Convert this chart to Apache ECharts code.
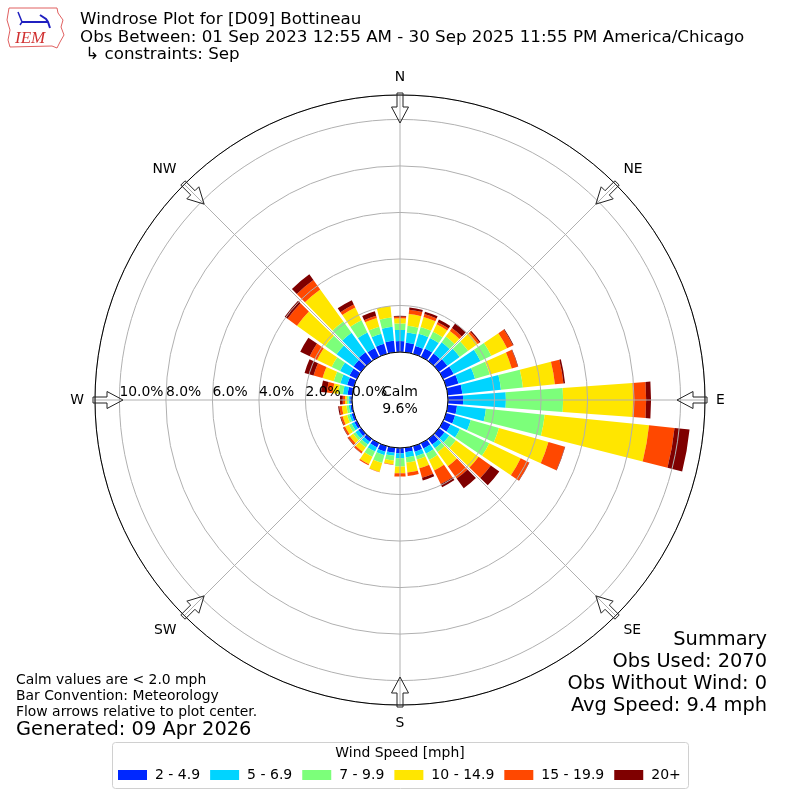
<!DOCTYPE html>
<html><head><meta charset="utf-8">
<script src="https://cdn.jsdelivr.net/npm/echarts@6/dist/echarts.min.js"></script>
<style>html,body{margin:0;padding:0;background:#fff}#c{width:800px;height:800px}</style>
</head><body><div id="c"></div>
<script>
// ---- data ----
const directions = ['0','10','20','30','40','50','60','70','80','90','100','110','120','130','140','150','160','170',
  '180','190','200','210','220','230','240','250','260','270','280','290','300','310','320','330','340','350'];
const speedBins = ['2 - 4.9','5 - 6.9','7 - 9.9','10 - 14.9','15 - 19.9','20+'];
// frequency (%) per direction for each speed bin
const bin2to5   = [.47,.41,.35,.40,.40,.45,.50,.55,.63,.65,.40,.40,.35,.30,.30,.25,.25,.19,.23,.22,.25,.20,.15,.15,.12,.10,.08,.08,.20,.30,.35,.40,.47,.42,.45,.50];
const bin5to7   = [.48,.44,.55,.50,.60,.65,1.28,.74,1.67,1.84,1.25,.70,.45,.25,.20,.25,.20,.22,.21,.13,.15,.20,.15,.15,.13,.10,.07,.07,.20,.30,.45,.90,1.03,.74,.45,.60];
const bin7to10  = [.28,.29,.30,.30,.30,.45,.52,.66,.95,2.46,2.54,1.26,1.40,.35,.20,.30,.15,.23,.36,.20,.35,.25,.15,.12,.13,.10,.10,.07,.20,.30,.40,.60,.60,.58,.31,.40];
const bin10to15 = [.22,.51,.45,.35,.30,.50,.75,.98,1.38,3.01,4.51,2.21,1.50,1.20,.75,.50,.39,.43,.29,.17,.40,.35,.23,.18,.18,.20,.20,.08,.25,.50,.70,1.50,1.70,.61,.39,.50];
const bin15to20 = [.07,.19,.13,.10,.15,.10,.28,.27,.37,.56,1.10,.73,.40,.65,.65,.65,.42,.15,.14,.02,.02,.05,.08,.10,.08,.08,.11,.10,.25,.40,.35,.50,.50,.15,.10,0];
const bin20plus = [.04,.09,.10,.13,.25,.05,.03,.02,.07,.21,.65,.02,.02,.45,.52,.15,.12,0,0,0,0,0,.01,.02,.02,.03,.05,.12,.25,.40,.45,.15,.30,.20,.20,0];
const radiusTickLabels = ['0.0%','2.0%','4.0%','6.0%','8.0%','10.0%'];
const compassLabels = ['W','NW','N','NE','E','SE','S','SW'];
const calmPct = '9.6%';
const titleLines = ['Windrose Plot for [D09] Bottineau',
  'Obs Between: 01 Sep 2023 12:55 AM - 30 Sep 2025 11:55 PM America/Chicago',
  ' \u21B3 constraints: Sep'];
const summaryLines = ['Summary','Obs Used: 2070','Obs Without Wind: 0','Avg Speed: 9.4 mph'];
const noteLines = ['Calm values are < 2.0 mph','Bar Convention: Meteorology','Flow arrows relative to plot center.'];
const generatedLine = 'Generated: 09 Apr 2026';

// ---- style ----
const binColors = ['#0028ff','#00d4ff','#7cff7a','#ffe600','#ff4800','#7f0000'];
const FONT = 'DejaVu Sans';
const CX = 400, CY = 400, R0 = 48, R1 = 305, RMAX = 11.05;

const allBins = [bin2to5, bin5to7, bin7to10, bin10to15, bin15to20, bin20plus];

const chart = echarts.init(document.getElementById('c'), null, {renderer: 'canvas'});

// compass arrows (decoration)
function arrowPoints(bearingDeg) {
  const b = bearingDeg * Math.PI / 180;
  const ux = Math.sin(b), uy = -Math.cos(b);
  const px = Math.cos(b), py = Math.sin(b);
  const P = (r, w) => [CX + ux * r + px * w, CY + uy * r + py * w];
  return [P(307, 3), P(293, 3), P(293, 8.5), P(277, 0), P(293, -8.5), P(293, -3), P(307, -3)];
}
const arrows = [0,45,90,135,180,225,270,315].map(b => ({
  type: 'polygon', shape: {points: arrowPoints(b)}, z: 100,
  style: {fill: 'rgba(255,255,255,0)', stroke: '#222', lineWidth: 1}
}));

const graphics = [
  // calm text
  {type: 'text', x: CX, y: CY - 8, z: 60, style: {text: 'Calm', font: '14px ' + FONT, fill: '#000', align: 'center', verticalAlign: 'middle'}},
  {type: 'text', x: CX, y: CY + 9, z: 60, style: {text: calmPct, font: '14px ' + FONT, fill: '#000', align: 'center', verticalAlign: 'middle'}},
  // titles
  ...titleLines.map((t, i) => ({type: 'text', x: 80, y: 20 + i * 17.5, z: 60,
    style: {text: t, font: '16.7px ' + FONT, fill: '#000', align: 'left', verticalAlign: 'middle'}})),
  // summary
  ...summaryLines.map((t, i) => ({type: 'text', x: 767, y: 640 + i * 22, z: 60,
    style: {text: t, font: '19.4px ' + FONT, fill: '#000', align: 'right', verticalAlign: 'middle'}})),
  // notes
  ...noteLines.map((t, i) => ({type: 'text', x: 16, y: 680 + i * 16, z: 60,
    style: {text: t, font: '13.9px ' + FONT, fill: '#000', align: 'left', verticalAlign: 'middle'}})),
  {type: 'text', x: 16, y: 730, z: 60, style: {text: generatedLine, font: '19.4px ' + FONT, fill: '#000', align: 'left', verticalAlign: 'middle'}},
  // legend box + title
  {type: 'rect', shape: {x: 112.5, y: 742.5, width: 576, height: 46, r: 3}, z: 1, style: {fill: '#fff', stroke: '#d0d0d0', lineWidth: 1}},
  {type: 'text', x: 400, y: 753, z: 60, style: {text: 'Wind Speed [mph]', font: '13.9px ' + FONT, fill: '#000', align: 'center', verticalAlign: 'middle'}},
  // logo (approximate)
  {type: 'polyline', z: 60, shape: {points: [[9,8],[57,8],[58,13],[63,20],[61,27],[64,35],[60,42],[57,48],[52,46],[10,47],[8,40],[10,30],[7,20],[9,8]]},
    style: {stroke: '#e06060', fill: 'none', lineWidth: 1}},
  {type: 'polyline', z: 60, shape: {points: [[22,22],[48,22]]}, style: {stroke: '#2020c0', lineWidth: 2}},
  {type: 'polyline', z: 60, shape: {points: [[18,12],[22,22],[20,25]]}, style: {stroke: '#2020c0', lineWidth: 1.5, fill: 'none'}},
  {type: 'polyline', z: 60, shape: {points: [[40,15],[46,19],[48,22],[50,28]]}, style: {stroke: '#2020c0', lineWidth: 2, fill: 'none'}},
  {type: 'text', x: 15, y: 39, z: 60, style: {text: 'IEM', font: 'italic 17px "Liberation Serif"', fill: '#d03030', align: 'left', verticalAlign: 'middle'}},
  ...arrows
];

const series = speedBins.map((name, k) => ({
  name: name, type: 'bar', coordinateSystem: 'polar', polarIndex: 0, stack: 'wind',
  data: allBins[k], barCategoryGap: '16%', z: 2,
  itemStyle: {color: binColors[k]}, emphasis: {disabled: true}
}));

chart.setOption({
  animation: false,
  textStyle: {fontFamily: FONT},
  polar: [
    {center: [CX, CY], radius: [R0, R1]},
    {center: [CX, CY], radius: [R0, R1]}
  ],
  angleAxis: [
    {polarIndex: 0, type: 'category', data: directions, startAngle: 95, clockwise: true,
     axisLine: {show: false}, axisTick: {show: false}, axisLabel: {show: false}, splitLine: {show: false}},
    {polarIndex: 1, type: 'value', min: 0, max: 360, interval: 45, startAngle: 180, clockwise: true, z: 10,
     axisLine: {show: true, lineStyle: {color: '#000', width: 1}},
     axisTick: {show: false},
     axisLabel: {show: true, margin: 11, color: '#000', fontSize: 13.9, fontFamily: FONT,
       align: 'center', verticalAlign: 'middle',
       formatter: v => (v < 360 ? compassLabels[Math.round(v / 45)] : '')},
     splitLine: {show: true, lineStyle: {color: '#b0b0b0', width: 1}}}
  ],
  radiusAxis: [
    {polarIndex: 0, type: 'value', min: 0, max: RMAX, show: false,
     axisLine: {show: false}, axisTick: {show: false}, axisLabel: {show: false}, splitLine: {show: false}},
    {polarIndex: 1, type: 'value', min: 0, max: RMAX, interval: 2, z: 10,
     axisLine: {show: false}, axisTick: {show: false},
     axisLabel: {show: true, color: '#000', fontSize: 13.9, fontFamily: FONT, margin: -1,
       align: 'left', verticalAlign: 'bottom', showMaxLabel: false, showMinLabel: true,
       formatter: v => (radiusTickLabels[Math.round(v / 2)] !== undefined && Math.abs(v / 2 - Math.round(v / 2)) < 1e-6 ? radiusTickLabels[Math.round(v / 2)] : '')},
     splitLine: {show: true, lineStyle: {color: '#b0b0b0', width: 1}}}
  ],
  legend: {
    data: speedBins, left: 118, top: 768, padding: 0, itemWidth: 29, itemHeight: 10, itemGap: 10, icon: 'rect',
    textStyle: {fontSize: 14, fontFamily: FONT, color: '#000', padding: [0, 0, 0, 3]},
    selectedMode: false
  },
  graphic: graphics,
  series: series
});
</script></body></html>
